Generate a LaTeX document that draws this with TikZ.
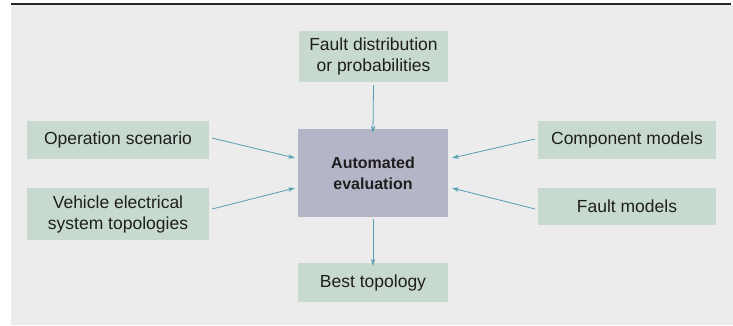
\documentclass[tikz,border=0pt]{standalone}
\usepackage{fontspec}
\setmainfont{Liberation Sans}
\usetikzlibrary{arrows.meta}
\definecolor{panelgray}{RGB}{236,236,236}
\definecolor{boxgreen}{RGB}{200,218,207}
\definecolor{coregray}{RGB}{180,182,200}
\definecolor{linkteal}{RGB}{88,158,178}
\definecolor{textdark}{RGB}{30,30,30}
\begin{document}
\begin{tikzpicture}[x=1pt,y=-1pt,
  inbox/.style={fill=boxgreen,draw=none,inner sep=0pt,text=textdark,
    font=\fontsize{17.5}{21}\selectfont,align=center},
  corebox/.style={fill=coregray,draw=none,inner sep=0pt,text=textdark,
    font=\fontsize{16}{21}\selectfont\bfseries,align=center},
  link/.style={draw=linkteal,line width=0.8pt,
    -{Stealth[length=7pt,width=4.5pt]}}]
  % page frame and grey panel
  \useasboundingbox (0,0) rectangle (733,325);
  \fill[panelgray] (11,5) rectangle (733,325);
  \draw[line width=2pt,black!85] (11,4) -- (731,4);

  % boxes
  \node[inbox,minimum width=149pt,minimum height=51pt] (fd) at (373.5,56.5)
    {Fault distribution\\or probabilities};
  \node[corebox,minimum width=150pt,minimum height=88pt] (ae) at (373,173)
    {Automated\\evaluation};
  \node[inbox,minimum width=182pt,minimum height=38pt] (os) at (118,140)
    {Operation scenario};
  \node[inbox,minimum width=182pt,minimum height=52pt] (ve) at (118,214)
    {Vehicle electrical\\system topologies};
  \node[inbox,minimum width=178pt,minimum height=38pt] (cm) at (627,140)
    {Component models};
  \node[inbox,minimum width=178pt,minimum height=37pt] (fm) at (627,206.5)
    {Fault models};
  \node[inbox,minimum width=150pt,minimum height=39pt] (bt) at (373,282.5)
    {Best topology};

  % connectors into and out of the evaluation
  \coordinate (osA) at (212,138);
  \coordinate (veA) at (212,209);
  \coordinate (cmA) at (535,139);
  \coordinate (fmA) at (535,209);
  \coordinate (aeL1) at (295,158);
  \coordinate (aeL2) at (295,188);
  \coordinate (aeR1) at (452,158);
  \coordinate (aeR2) at (452,188);
  \draw[link] (fd.south)++(0,3) -- ([yshift=-4pt]ae.north);
  \draw[link] (osA) -- (aeL1);
  \draw[link] (veA) -- (aeL2);
  \draw[link] (cmA) -- (aeR1);
  \draw[link] (fmA) -- (aeR2);
  \draw[link] (ae.south)++(0,2) -- ([yshift=-3pt]bt.north);
\end{tikzpicture}
\end{document}
